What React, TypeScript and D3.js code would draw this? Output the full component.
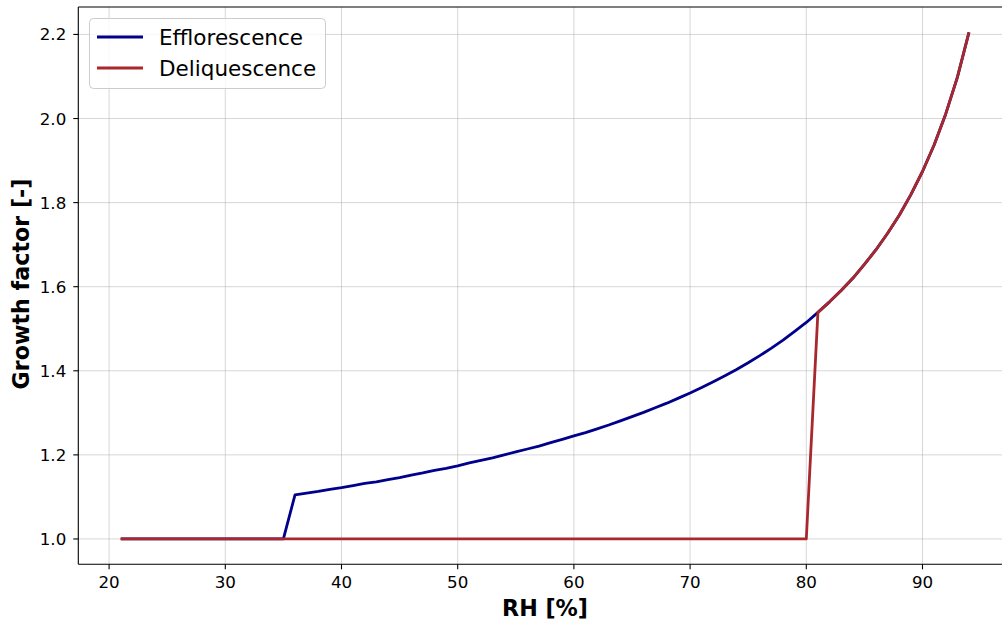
import React from "react";
import * as d3 from "d3";

// Relative humidity [%] and hygroscopic growth factor [-] for each branch
const effRH = [21, 35, 36, 37, 38, 39, 40, 41, 42, 43, 44, 45, 46, 47, 48, 49, 50, 51, 52, 53, 54, 55, 56, 57, 58, 59, 60, 61, 62, 63, 64, 65, 66, 67, 68, 69, 70, 71, 72, 73, 74, 75, 76, 77, 78, 79, 80, 81, 82, 83, 84, 85, 86, 87, 88, 89, 90, 91, 92, 93, 94];
const effGF = [1.0, 1.0, 1.105, 1.109, 1.113, 1.118, 1.122, 1.127, 1.132, 1.136, 1.141, 1.146, 1.152, 1.157, 1.163, 1.168, 1.174, 1.181, 1.187, 1.193, 1.2, 1.207, 1.214, 1.221, 1.229, 1.237, 1.245, 1.253, 1.262, 1.271, 1.281, 1.291, 1.301, 1.312, 1.323, 1.335, 1.347, 1.36, 1.374, 1.388, 1.403, 1.419, 1.436, 1.454, 1.473, 1.494, 1.515, 1.539, 1.564, 1.591, 1.62, 1.653, 1.688, 1.727, 1.77, 1.819, 1.874, 1.937, 2.011, 2.098, 2.205];

const delRH = [21, 80, 81, 82, 83, 84, 85, 86, 87, 88, 89, 90, 91, 92, 93, 94];
const delGF = [1.0, 1.0, 1.539, 1.564, 1.591, 1.62, 1.653, 1.688, 1.727, 1.77, 1.819, 1.874, 1.937, 2.011, 2.098, 2.205];

const xTicks = [20, 30, 40, 50, 60, 70, 80, 90];
const yTicks = [1.0, 1.2, 1.4, 1.6, 1.8, 2.0, 2.2];

const seriesNames = ["Efflorescence", "Deliquescence"];
const seriesColors = ["#00008b", "#a8292d"];

const W = 1002;
const H = 623;
const plotLeft = 78.3;
const plotTop = 7;
const plotBottom = 564.3;
const FONT = "'DejaVu Sans', sans-serif";

export default function App() {
  const x = d3.scaleLinear().domain([17.35, 97.65]).range([plotLeft, plotLeft + 80.3 * 11.62]);
  const y = d3.scaleLinear().domain([0.93975, 2.26525]).range([plotBottom, plotTop]);
  const plotRight = W + 20;

  const line = d3
    .line<[number, number]>()
    .x((d) => x(d[0]))
    .y((d) => y(d[1]));

  const effPts: [number, number][] = effRH.map((r, i) => [r, effGF[i]]);
  const delPts: [number, number][] = delRH.map((r, i) => [r, delGF[i]]);

  return (
    <svg
      width={W}
      height={H}
      style={{ position: "fixed", left: 0, top: 0, background: "#fff" }}
      fontFamily={FONT}
    >
      <rect x={0} y={0} width={W} height={H} fill="#fff" />
      {/* grid */}
      <g stroke="#b0b0b0" strokeOpacity={0.5} strokeWidth={1}>
        {xTicks.map((t) => (
          <line key={"gx" + t} x1={x(t)} x2={x(t)} y1={plotTop} y2={plotBottom} />
        ))}
        {yTicks.map((t) => (
          <line key={"gy" + t} x1={plotLeft} x2={plotRight} y1={y(t)} y2={y(t)} />
        ))}
      </g>

      {/* data */}
      <path d={line(effPts) || ""} fill="none" stroke={seriesColors[0]} strokeWidth={2.8} strokeLinejoin="round" />
      <path d={line(delPts) || ""} fill="none" stroke={seriesColors[1]} strokeWidth={2.8} strokeLinejoin="round" />

      {/* spines */}
      <g stroke="#000" strokeWidth={1.1} fill="none">
        <line x1={plotLeft} x2={plotLeft} y1={plotTop} y2={plotBottom} />
        <line x1={plotLeft} x2={plotRight} y1={plotBottom} y2={plotBottom} />
        <line x1={plotLeft} x2={plotRight} y1={plotTop} y2={plotTop} />
      </g>

      {/* x ticks */}
      {xTicks.map((t) => (
        <g key={"xt" + t}>
          <line x1={x(t)} x2={x(t)} y1={plotBottom} y2={plotBottom + 5} stroke="#000" strokeWidth={1.1} />
          <text x={x(t)} y={plotBottom + 23.5} textAnchor="middle" fontSize={16.7} fill="#000">
            {t}
          </text>
        </g>
      ))}
      {/* y ticks */}
      {yTicks.map((t) => (
        <g key={"yt" + t}>
          <line x1={plotLeft - 5} x2={plotLeft} y1={y(t)} y2={y(t)} stroke="#000" strokeWidth={1.1} />
          <text x={plotLeft - 12} y={y(t) + 6} textAnchor="end" fontSize={16.7} fill="#000">
            {t.toFixed(1)}
          </text>
        </g>
      ))}

      {/* axis labels */}
      <text x={545} y={616} textAnchor="middle" fontSize={22.2} fontWeight="bold" fill="#000">
        RH [%]
      </text>
      <text
        transform={`translate(29, ${284}) rotate(-90)`}
        textAnchor="middle"
        fontSize={22.2}
        fontWeight="bold"
        fill="#000"
      >
        Growth factor [-]
      </text>

      {/* legend */}
      <g>
        <rect x={89.5} y={18.5} width={236} height={70} rx={4} fill="#fff" fillOpacity={0.8} stroke="#cccccc" strokeWidth={1} />
        {seriesNames.map((name, i) => (
          <g key={name}>
            <line x1={97} x2={143} y1={37 + i * 31} y2={37 + i * 31} stroke={seriesColors[i]} strokeWidth={2.8} />
            <text x={159} y={44.5 + i * 31} fontSize={21.5} fill="#000">
              {name}
            </text>
          </g>
        ))}
      </g>
    </svg>
  );
}
